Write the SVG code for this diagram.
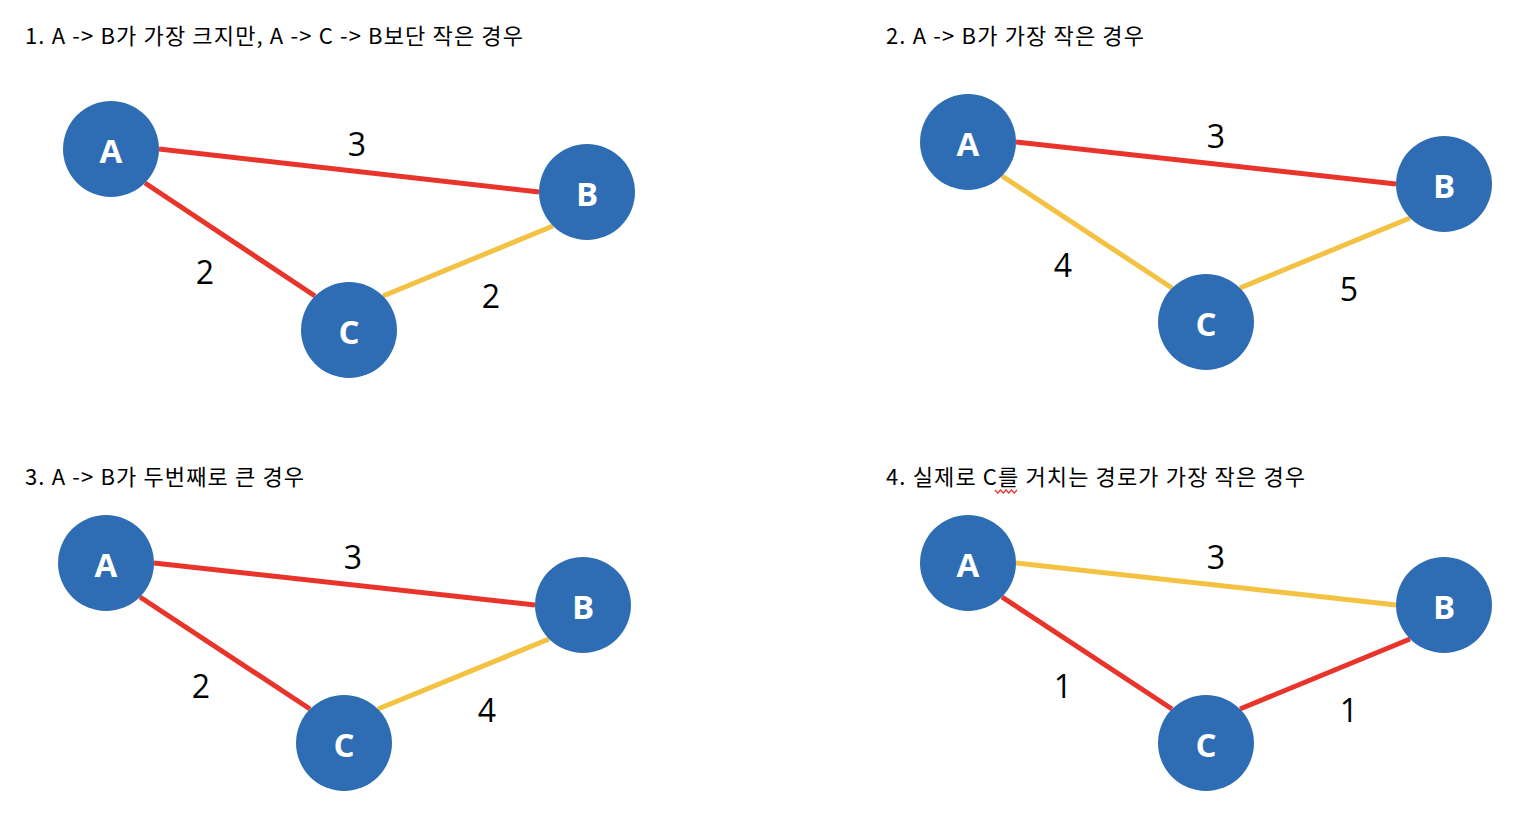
<svg xmlns="http://www.w3.org/2000/svg" width="1526" height="822" viewBox="0 0 1526 822">
<style>
.title{font-family:"Noto Sans CJK KR","Liberation Sans",sans-serif;font-size:22px;fill:#000}
.w{font-family:"Open Sans","Liberation Sans",sans-serif;font-size:32px;fill:#000;text-anchor:middle}
.node circle{fill:#2E6DB4}
.node text{font-family:"Open Sans","Liberation Sans",sans-serif;font-weight:bold;font-size:33px;fill:#fff;text-anchor:middle;dominant-baseline:central}
.r{stroke:#E8342A;stroke-width:5;fill:none}
.y{stroke:#F4C242;stroke-width:5;fill:none}
</style>
<rect width="1526" height="822" fill="#fff"/>
<g id="titles">
<text class="title" x="25" y="44" textLength="498" lengthAdjust="spacing">1. A -&gt; B가 가장 크지만, A -&gt; C -&gt; B보단 작은 경우</text>
<text class="title" x="886" y="44" textLength="258" lengthAdjust="spacing">2. A -&gt; B가 가장 작은 경우</text>
<text class="title" x="25" y="485" textLength="279" lengthAdjust="spacing">3. A -&gt; B가 두번째로 큰 경우</text>
<text class="title" x="886" y="485" textLength="419" lengthAdjust="spacing">4. 실제로 C를 거치는 경로가 가장 작은 경우</text>
<path d="M995 490 l2.75 3 l2.75 -3 l2.75 3 l2.75 -3 l2.75 3 l2.75 -3 l2.75 3 l2.75 -3" stroke="#E8342A" stroke-width="1.2" fill="none"/>
</g>
<g id="connectors">
<line class="r" x1="159" y1="149" x2="539" y2="192"/>
<line class="r" x1="145" y1="183" x2="315" y2="296"/>
<line class="y" x1="383" y1="296" x2="553" y2="226"/>
<line class="r" x1="1016" y1="142" x2="1396" y2="184"/>
<line class="y" x1="1002" y1="176" x2="1172" y2="288"/>
<line class="y" x1="1240" y1="288" x2="1410" y2="218"/>
<line class="r" x1="154" y1="563" x2="535" y2="605"/>
<line class="r" x1="140" y1="597" x2="310" y2="709"/>
<line class="y" x1="378" y1="709" x2="549" y2="639"/>
<line class="y" x1="1016" y1="563" x2="1396" y2="605"/>
<line class="r" x1="1002" y1="597" x2="1172" y2="709"/>
<line class="r" x1="1240" y1="709" x2="1410" y2="639"/>
</g>
<g id="weights">
<text class="w" x="357" y="156">3</text>
<text class="w" x="205" y="284">2</text>
<text class="w" x="491" y="308">2</text>
<text class="w" x="1216" y="148">3</text>
<text class="w" x="1063" y="277">4</text>
<text class="w" x="1349" y="301">5</text>
<text class="w" x="353" y="569">3</text>
<text class="w" x="201" y="698">2</text>
<text class="w" x="487" y="722">4</text>
<text class="w" x="1216" y="569">3</text>
<text class="w" x="1063" y="698">1</text>
<text class="w" x="1349" y="722">1</text>
</g>
<g id="n1A" class="node"><circle cx="111" cy="149" r="48"/><text x="111" y="150">A</text></g>
<g id="n1B" class="node"><circle cx="587" cy="192" r="48"/><text x="587" y="193">B</text></g>
<g id="n1C" class="node"><circle cx="349" cy="330" r="48"/><text x="349" y="331">C</text></g>
<g id="n2A" class="node"><circle cx="968" cy="142" r="48"/><text x="968" y="143">A</text></g>
<g id="n2B" class="node"><circle cx="1444" cy="184" r="48"/><text x="1444" y="185">B</text></g>
<g id="n2C" class="node"><circle cx="1206" cy="322" r="48"/><text x="1206" y="323">C</text></g>
<g id="n3A" class="node"><circle cx="106" cy="563" r="48"/><text x="106" y="564">A</text></g>
<g id="n3B" class="node"><circle cx="583" cy="605" r="48"/><text x="583" y="606">B</text></g>
<g id="n3C" class="node"><circle cx="344" cy="743" r="48"/><text x="344" y="744">C</text></g>
<g id="n4A" class="node"><circle cx="968" cy="563" r="48"/><text x="968" y="564">A</text></g>
<g id="n4B" class="node"><circle cx="1444" cy="605" r="48"/><text x="1444" y="606">B</text></g>
<g id="n4C" class="node"><circle cx="1206" cy="743" r="48"/><text x="1206" y="744">C</text></g>
</svg>
